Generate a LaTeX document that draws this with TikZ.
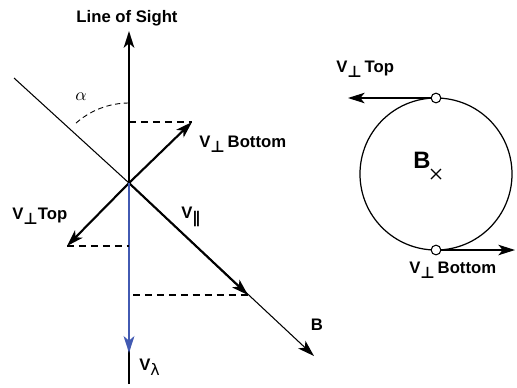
\documentclass[tikz,border=0pt]{standalone}
\usepackage{fontspec}
\setmainfont{Liberation Sans}
\newfontfamily\symfont{DejaVu Sans}
\usepackage{amsmath}
\usetikzlibrary{arrows.meta, positioning, calc}
\definecolor{losblue}{RGB}{66,90,178}
\newcommand{\vsub}[1]{\raisebox{-0.6ex}{\fontsize{9}{9}\selectfont\symfont #1}}
\tikzset{
  vecarrow/.style={-{Stealth[length=9.5pt,width=6pt,inset=2.5pt]}, line width=1.2pt},
  thinarrow/.style={-{Stealth[length=9.5pt,width=6pt,inset=2.5pt]}, line width=0.6pt},
  projline/.style={line width=0.7pt, dash pattern=on 4pt off 2.8pt},
  anglearc/.style={line width=0.5pt, dash pattern=on 3pt off 2pt},
  lbl/.style={font=\fontsize{9.5}{11}\selectfont\bfseries, inner sep=0pt},
  bigl/.style={font=\fontsize{13.5}{15}\selectfont\bfseries, inner sep=0pt},
  dotpt/.style={circle, draw, fill=white, line width=0.6pt, inner sep=0pt, minimum size=5.5pt},
}

\begin{document}
\begin{tikzpicture}[x=0.02cm, y=-0.02cm]
  \useasboundingbox (0,0) rectangle (517,387);
  % left panel
  \coordinate (O) at (129,183);
  \coordinate (los) at (129,31);
  \coordinate (axend) at (129,384);
  \coordinate (btail) at (14,78);
  \coordinate (btip) at (314,356);
  \coordinate (vpar) at (248,295);
  \coordinate (vbot) at (192,122);
  \coordinate (vtop) at (67,246);
  \coordinate (vlam) at (129,353);
  \draw[line width=0.6pt] (btail) -- (O);
  \draw[thinarrow] (O) -- (btip);
  \draw[vecarrow] (axend) -- (los);
  \draw[vecarrow] (O) -- (vpar);
  \draw[vecarrow] (O) -- (vbot);
  \draw[vecarrow] (O) -- (vtop);
  \draw[vecarrow, line width=1.7pt, losblue] (O) -- (vlam);
  \draw[projline] (O |- vbot) -- (vbot);
  \draw[projline] (vtop) -- (O |- vtop);
  \draw[projline] ($(O |- vpar)+(4,0)$) -- (vpar);
  \draw[anglearc] ($(O)+(0,-80)$) arc[start angle=-90, end angle=-133, radius=80];
  \node[lbl] (loslbl) at (127,18) {Line of Sight};
  \node (alpha) at (81,97) {$\alpha$};
  \node[lbl, anchor=west] (vbotlbl) at (199,144) {V\vsub{⊥}\,Bottom};
  \node[lbl, anchor=west] (vtoplbl) at (12,216) {V\vsub{⊥}Top};
  \node[lbl, anchor=west] (vparlbl) at (181,217) {V\vsub{∥}};
  \node[lbl] (blbl) at (317,325) {B};
  \node[lbl, anchor=west] (vlamlbl) at (139,367) {V\vsub{\mdseries λ}};
  % right panel
  \coordinate (C) at (436,174);
  \draw[line width=0.7pt] (C) circle[radius=76];
  \node[dotpt] (ptop) at (436,98) {};
  \node[dotpt] (pbot) at (436,250) {};
  \coordinate (ttip) at (348,98);
  \coordinate (btip2) at (515,250);
  \draw[thinarrow] (ptop) -- (ttip);
  \draw[thinarrow] (pbot) -- (btip2);
  \draw[line width=0.7pt] ($(C)+(-5,-5)$) -- ($(C)+(5,5)$) ($(C)+(-5,5)$) -- ($(C)+(5,-5)$);
  \node[bigl] (bfield) at (422,160) {B};
  \node[lbl, anchor=west] (ttoplbl) at (336,69) {V\vsub{⊥}\,Top};
  \node[lbl, anchor=west] (tbotlbl) at (409,270) {V\vsub{⊥}\,Bottom};
\end{tikzpicture}
\end{document}
